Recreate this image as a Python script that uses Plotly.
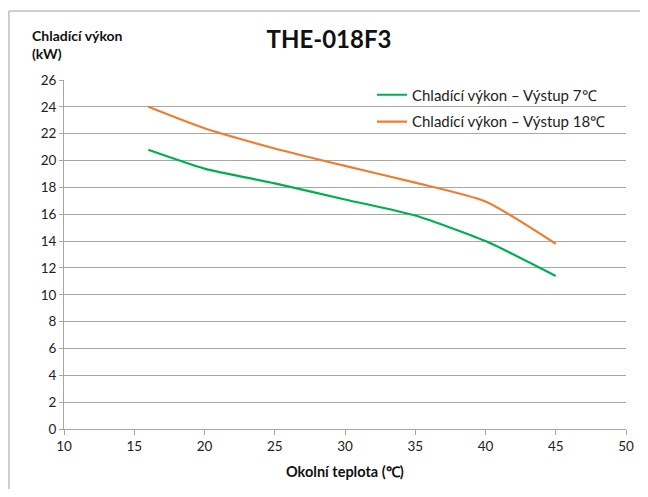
import plotly.graph_objects as go

temps = [16, 20, 25, 30, 35, 40, 45]
out7 = [20.8, 19.4, 18.3, 17.1, 15.9, 14.0, 11.4]
out18 = [24.0, 22.4, 20.9, 19.6, 18.35, 16.95, 13.8]

name7 = "Chladící výkon – Výstup 7℃"
name18 = "Chladící výkon – Výstup 18℃"
xticks = [10, 15, 20, 25, 30, 35, 40, 45, 50]
yticks = list(range(0, 27, 2))

FONT = "Lato"
fig = go.Figure()
fig.add_trace(go.Scatter(x=temps, y=out7, mode="lines", name=name7, legend="legend",
                         line=dict(color="#00b050", width=2.2, shape="spline", smoothing=0.6)))
fig.add_trace(go.Scatter(x=temps, y=out18, mode="lines", name=name18, legend="legend2",
                         line=dict(color="#ed7d31", width=2.2, shape="spline", smoothing=0.6)))

leg_common = dict(x=0.548, xanchor="left", yanchor="middle", bgcolor="rgba(0,0,0,0)",
                  font=dict(family=FONT, size=15, color="#222222"), itemwidth=30)

fig.update_layout(
    width=640, height=481,
    margin=dict(l=56, r=22, t=72, b=60, autoexpand=False),
    paper_bgcolor="white", plot_bgcolor="white",
    font=dict(family=FONT, size=13, color="#222222"),
    title=dict(text="<b>THE-018F3</b>", x=0.4715, xref="paper", xanchor="center",
               y=1 - 32 / 481, yref="container", yanchor="middle",
               font=dict(family=FONT, size=24, color="#111111")),
    xaxis=dict(range=[10, 50], tickvals=xticks, showgrid=False, showline=True,
               linecolor="#a6a6a6", linewidth=1, ticks="outside", ticklen=5, tickcolor="#a6a6a6",
               tickfont=dict(size=13.5), zeroline=False),
    yaxis=dict(range=[0, 26], tickvals=yticks, showgrid=True, gridcolor="#a6a6a6", gridwidth=1,
               showline=True, linecolor="#a6a6a6", linewidth=1, ticks="outside", ticklen=4,
               tickcolor="#a6a6a6", tickfont=dict(size=13.5), zeroline=False),
    legend=dict(y=0.957, **leg_common),
    legend2=dict(y=0.880, **leg_common),
    showlegend=True,
)

fig.add_annotation(text="<b>Chladící výkon<br>(kW)</b>", xref="paper", yref="paper",
                   x=-0.0605, y=1.103, xanchor="left", yanchor="middle", align="left",
                   showarrow=False, font=dict(family=FONT, size=14, color="#111111"))
fig.add_annotation(text="<b>Okolní teplota (℃)</b>", xref="paper", yref="paper",
                   x=0.5, y=-0.123, xanchor="center", yanchor="middle",
                   showarrow=False, font=dict(family=FONT, size=14.5, color="#111111"))

# chart border (top and left visible)
fig.add_shape(type="line", xref="paper", yref="paper", x0=-0.098, x1=1.05, y0=1.198, y1=1.198,
              line=dict(color="#bfbfbf", width=1.5))
fig.add_shape(type="line", xref="paper", yref="paper", x0=-0.098, x1=-0.098, y0=1.198, y1=-0.25,
              line=dict(color="#bfbfbf", width=1.5))

fig.write_html("out.html")
